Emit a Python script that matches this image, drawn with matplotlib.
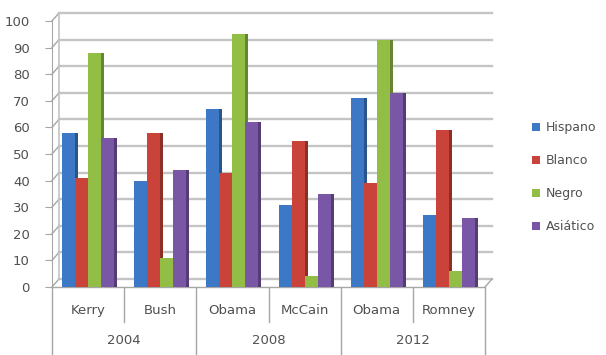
import numpy as np
import matplotlib.pyplot as plt
import matplotlib.colors as mcolors

# exit-poll vote share by group (percent)
candidates = ["Kerry", "Bush", "Obama", "McCain", "Obama", "Romney"]
years = ["2004", "2008", "2012"]
groups = ["Hispano", "Blanco", "Negro", "Asiático"]
hispano = [58, 40, 67, 31, 71, 27]
blanco = [41, 58, 43, 55, 39, 59]
negro = [88, 11, 95, 4, 93, 6]
asiatico = [56, 44, 62, 35, 73, 26]

series = [hispano, blanco, negro, asiatico]
colors = ["#3d78c6", "#c9433b", "#93be45", "#7a56a6"]
grid_col = "#c4c4c4"
axis_col = "#a6a6a6"
text_col = "#505050"

fig = plt.figure(figsize=(6.06, 3.55), dpi=100)
ax = fig.add_axes([52 / 606, 68 / 355, 433 / 606, 266 / 355])
ax.set_xlim(-0.5, 5.5)
ax.set_ylim(0, 100)

# depth of the fake 3D wall, in pixels, converted to data units
w_px = 433
h_px = 266
ddx = 7 / (w_px / 6.0)
ddy = 8 / (h_px / 100.0)

ticks = np.arange(0, 101, 10)
for v in ticks:
    ax.plot([-0.5 + ddx, 5.5 + ddx], [v + ddy, v + ddy], color=grid_col,
            lw=1.7, zorder=1, clip_on=False)
    ax.plot([-0.5, -0.5 + ddx], [v, v + ddy], color=axis_col, lw=1,
            zorder=1, clip_on=False)
ax.plot([-0.5 + ddx, -0.5 + ddx], [ddy, 100 + ddy], color=grid_col, lw=1.2,
        zorder=1, clip_on=False)
# floor edges
ax.plot([-0.5, 5.5], [0, 0], color=axis_col, lw=1, zorder=1, clip_on=False)
ax.plot([5.5, 5.5 + ddx], [0, ddy], color=axis_col, lw=1, zorder=1,
        clip_on=False)

x = np.arange(len(candidates))
width = 0.18
side_dx = 3 / (w_px / 6.0)
for i, (vals, col) in enumerate(zip(series, colors)):
    pos = x + (i - 1.5) * width
    dark = np.array(mcolors.to_rgb(col)) * 0.7
    ax.bar(pos + side_dx, vals, width, color=dark, zorder=2 + 2 * i,
           clip_on=False)
    ax.bar(pos, vals, width, color=col, zorder=3 + 2 * i, label=groups[i],
           clip_on=False)

for s in ["top", "right", "bottom"]:
    ax.spines[s].set_visible(False)
ax.spines["left"].set_color(axis_col)
ax.set_yticks(ticks)
ax.set_yticklabels([str(t) for t in ticks], fontsize=9.5, color=text_col)
ax.tick_params(axis="y", length=5, color=axis_col, pad=11)
ax.set_xticks([])

# two-level category axis
trans = ax.get_xaxis_transform()
for i, name in enumerate(candidates):
    ax.text(i, -0.087, name, transform=trans, ha="center", va="center",
            fontsize=9.5, color=text_col)
for j, yr in enumerate(years):
    ax.text(2 * j + 0.5, -0.203, yr, transform=trans, ha="center",
            va="center", fontsize=9.5, color=text_col)
for k in range(7):
    bottom = -0.26 if k % 2 == 0 else -0.13
    ax.plot([k - 0.5, k - 0.5], [-0.005, bottom], transform=trans,
            color=axis_col, lw=1, clip_on=False)

fig.legend(loc="center left", bbox_to_anchor=(532 / 606, 1 - 177 / 355),
           frameon=False, fontsize=9, handlelength=0.6, handleheight=0.6,
           handletextpad=0.5, labelspacing=1.6, labelcolor=text_col,
           borderpad=0, borderaxespad=0)

fig.savefig("out.png", dpi=100)
